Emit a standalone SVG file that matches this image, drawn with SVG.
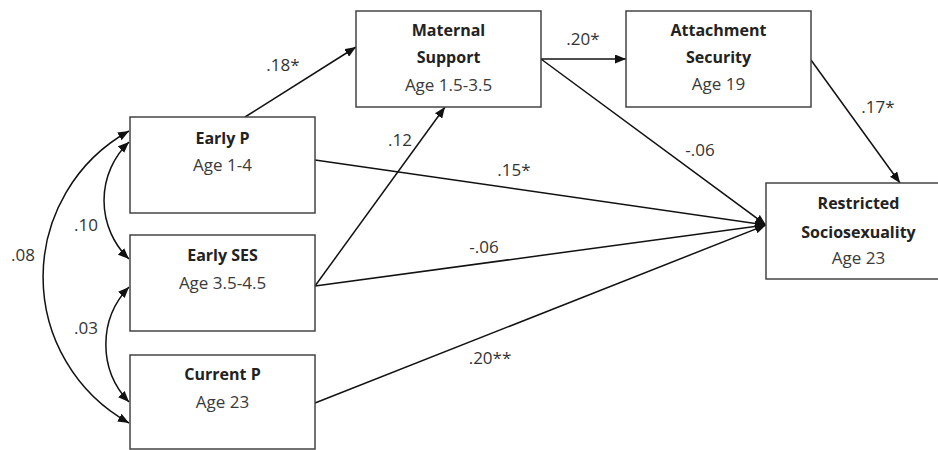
<svg xmlns="http://www.w3.org/2000/svg" width="938" height="450" viewBox="0 0 938 450">
<style>
.box{fill:#fff;stroke:#444;stroke-width:1.5}
.t{font-family:"Open Sans","Liberation Sans",sans-serif;text-anchor:middle}
.b{font-weight:bold;font-size:16px;fill:#222}
.r{font-size:17px;fill:#3a3a3a}
.lbl{font-family:"Open Sans","Liberation Sans",sans-serif;font-size:17px;fill:#333;text-anchor:middle}
.c{fill:none;stroke:#111;stroke-width:1.5;marker-end:url(#ah)}
.bi{fill:none;stroke:#111;stroke-width:1.5;marker-start:url(#ah);marker-end:url(#ah)}
</style>
<defs>
<marker id="ah" markerUnits="userSpaceOnUse" markerWidth="11" markerHeight="9" refX="11" refY="4.5" orient="auto-start-reverse">
<path d="M0,0 L11,4.5 L0,9 z" fill="#111"/>
</marker>
</defs>
<rect width="938" height="450" fill="#fff"/>
<g id="connectors">
<line class="c" x1="245" y1="117" x2="356" y2="47"/>
<line class="c" x1="315" y1="286" x2="445" y2="107"/>
<line class="c" x1="315" y1="160" x2="766" y2="225"/>
<line class="c" x1="315" y1="286" x2="766" y2="225"/>
<line class="c" x1="315" y1="403" x2="766" y2="225"/>
<line class="c" x1="541" y1="59" x2="766" y2="225"/>
<line class="c" x1="541" y1="59" x2="626" y2="59"/>
<line class="c" x1="811" y1="60" x2="900" y2="183"/>
<path class="bi" d="M129,142 A81,81 0 0 0 129,259"/>
<path class="bi" d="M129,287 A83,83 0 0 0 129,402"/>
<path class="bi" d="M129,131 A167,167 0 0 0 129,423"/>
<text class="lbl" x="283" y="71">.18*</text>
<text class="lbl" x="400" y="146">.12</text>
<text class="lbl" x="514" y="176">.15*</text>
<text class="lbl" x="484" y="253">-.06</text>
<text class="lbl" x="490" y="364">.20**</text>
<text class="lbl" x="700" y="156">-.06</text>
<text class="lbl" x="583" y="45">.20*</text>
<text class="lbl" x="878" y="113">.17*</text>
<text class="lbl" x="86" y="231">.10</text>
<text class="lbl" x="86" y="334">.03</text>
<text class="lbl" x="23" y="261">.08</text>
</g>
<g id="early-p">
<rect class="box" x="130" y="117" width="185" height="96"/>
<text class="t b" x="222.5" y="144">Early P</text>
<text class="t r" x="222.5" y="171">Age 1-4</text>
</g>
<g id="early-ses">
<rect class="box" x="130" y="235" width="185" height="96"/>
<text class="t b" x="222.5" y="261">Early SES</text>
<text class="t r" x="222.5" y="289">Age 3.5-4.5</text>
</g>
<g id="current-p">
<rect class="box" x="130" y="355" width="185" height="94"/>
<text class="t b" x="222.5" y="380">Current P</text>
<text class="t r" x="222.5" y="408">Age 23</text>
</g>
<g id="maternal-support">
<rect class="box" x="356" y="11" width="185" height="96"/>
<text class="t b" x="448.5" y="36">Maternal</text>
<text class="t b" x="448.5" y="63">Support</text>
<text class="t r" x="448.5" y="91">Age 1.5-3.5</text>
</g>
<g id="attachment-security">
<rect class="box" x="626" y="11" width="185" height="96"/>
<text class="t b" x="718.5" y="36">Attachment</text>
<text class="t b" x="718.5" y="63">Security</text>
<text class="t r" x="718.5" y="90">Age 19</text>
</g>
<g id="restricted-sociosexuality">
<rect class="box" x="766" y="183" width="185" height="96"/>
<text class="t b" x="858.5" y="209">Restricted</text>
<text class="t b" x="858.5" y="238">Sociosexuality</text>
<text class="t r" x="858.5" y="264">Age 23</text>
</g>
</svg>
